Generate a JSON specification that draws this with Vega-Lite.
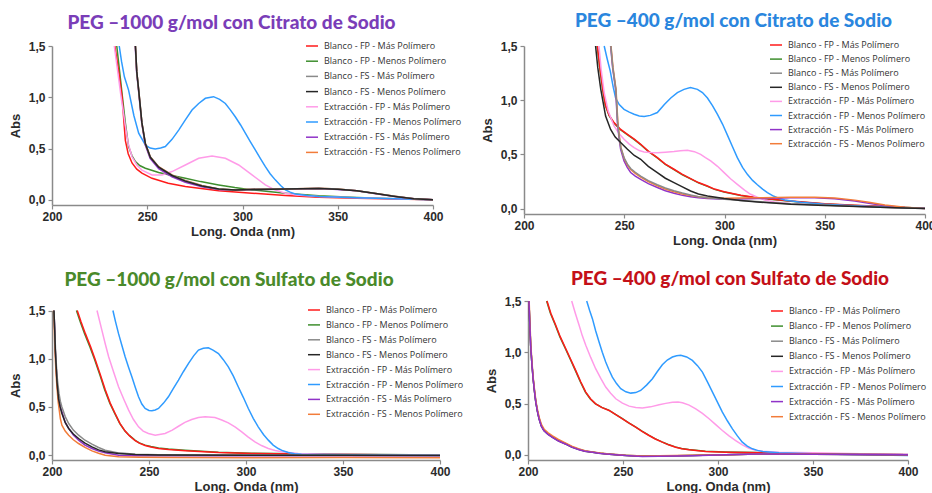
{
"$schema":"https://vega.github.io/schema/vega-lite/v6.json",
"background":"white",
"padding":{"left":9,"top":12,"right":0,"bottom":0},
"datasets":{
"series":[
{"s":1,"name":"Blanco - FP - Más Polímero"},{"s":2,"name":"Blanco - FP - Menos Polímero"},{"s":3,"name":"Blanco - FS - Más Polímero"},{"s":4,"name":"Blanco - FS - Menos Polímero"},
{"s":5,"name":"Extracción - FP - Más Polímero"},{"s":6,"name":"Extracción - FP - Menos Polímero"},{"s":7,"name":"Extracción - FS - Más Polímero"},{"s":8,"name":"Extracción - FS - Menos Polímero"}],
"spectra":[
{"p":1,"s":2,"x":234,"y":1.5},{"p":1,"s":2,"x":235.5,"y":1.25},{"p":1,"s":2,"x":237,"y":1.0},{"p":1,"s":2,"x":238.5,"y":0.75},{"p":1,"s":2,"x":240.2,"y":0.52},{"p":1,"s":2,"x":242,"y":0.43},{"p":1,"s":2,"x":243.8,"y":0.373},{"p":1,"s":2,"x":246,"y":0.335},{"p":1,"s":2,"x":249,"y":0.308},{"p":1,"s":2,"x":256,"y":0.266},{"p":1,"s":2,"x":263,"y":0.238},{"p":1,"s":2,"x":270,"y":0.21},{"p":1,"s":2,"x":278,"y":0.178},{"p":1,"s":2,"x":287.5,"y":0.146},{"p":1,"s":2,"x":296,"y":0.12},{"p":1,"s":2,"x":305,"y":0.097},{"p":1,"s":2,"x":322.5,"y":0.065},{"p":1,"s":2,"x":340,"y":0.039},{"p":1,"s":2,"x":360,"y":0.022},{"p":1,"s":2,"x":380,"y":0.01},{"p":1,"s":2,"x":400,"y":0.002},
{"p":1,"s":1,"x":233,"y":1.5},{"p":1,"s":1,"x":235,"y":1.25},{"p":1,"s":1,"x":236.8,"y":1.0},{"p":1,"s":1,"x":238,"y":0.7},{"p":1,"s":1,"x":238.5,"y":0.58},{"p":1,"s":1,"x":240,"y":0.45},{"p":1,"s":1,"x":242,"y":0.36},{"p":1,"s":1,"x":244.5,"y":0.3},{"p":1,"s":1,"x":247.2,"y":0.26},{"p":1,"s":1,"x":252.5,"y":0.21},{"p":1,"s":1,"x":261,"y":0.162},{"p":1,"s":1,"x":270,"y":0.13},{"p":1,"s":1,"x":287.5,"y":0.088},{"p":1,"s":1,"x":305,"y":0.065},{"p":1,"s":1,"x":322.5,"y":0.042},{"p":1,"s":1,"x":340,"y":0.026},{"p":1,"s":1,"x":360,"y":0.016},{"p":1,"s":1,"x":380,"y":0.008},{"p":1,"s":1,"x":400,"y":0.002},
{"p":1,"s":5,"x":232.7,"y":1.5},{"p":1,"s":5,"x":234.5,"y":1.25},{"p":1,"s":5,"x":236.3,"y":1.0},{"p":1,"s":5,"x":237.5,"y":0.85},{"p":1,"s":5,"x":238.5,"y":0.72},{"p":1,"s":5,"x":240,"y":0.55},{"p":1,"s":5,"x":242,"y":0.42},{"p":1,"s":5,"x":244.5,"y":0.34},{"p":1,"s":5,"x":247.2,"y":0.29},{"p":1,"s":5,"x":252.5,"y":0.243},{"p":1,"s":5,"x":257.7,"y":0.243},{"p":1,"s":5,"x":263,"y":0.276},{"p":1,"s":5,"x":270,"y":0.34},{"p":1,"s":5,"x":277,"y":0.405},{"p":1,"s":5,"x":284,"y":0.428},{"p":1,"s":5,"x":291,"y":0.405},{"p":1,"s":5,"x":298,"y":0.34},{"p":1,"s":5,"x":305,"y":0.243},{"p":1,"s":5,"x":312,"y":0.146},{"p":1,"s":5,"x":317,"y":0.097},{"p":1,"s":5,"x":322.5,"y":0.065},{"p":1,"s":5,"x":330,"y":0.045},{"p":1,"s":5,"x":340,"y":0.032},{"p":1,"s":5,"x":360,"y":0.02},{"p":1,"s":5,"x":380,"y":0.01},{"p":1,"s":5,"x":400,"y":0.002},
{"p":1,"s":6,"x":235.3,"y":1.5},{"p":1,"s":6,"x":236.5,"y":1.35},{"p":1,"s":6,"x":238,"y":1.2},{"p":1,"s":6,"x":240.2,"y":1.07},{"p":1,"s":6,"x":243,"y":0.82},{"p":1,"s":6,"x":245.5,"y":0.65},{"p":1,"s":6,"x":249,"y":0.535},{"p":1,"s":6,"x":251.5,"y":0.505},{"p":1,"s":6,"x":254.2,"y":0.497},{"p":1,"s":6,"x":257,"y":0.505},{"p":1,"s":6,"x":259.5,"y":0.52},{"p":1,"s":6,"x":263,"y":0.59},{"p":1,"s":6,"x":266.5,"y":0.68},{"p":1,"s":6,"x":270,"y":0.78},{"p":1,"s":6,"x":273.5,"y":0.876},{"p":1,"s":6,"x":277,"y":0.94},{"p":1,"s":6,"x":280.5,"y":0.99},{"p":1,"s":6,"x":284.8,"y":1.006},{"p":1,"s":6,"x":288,"y":0.98},{"p":1,"s":6,"x":291,"y":0.94},{"p":1,"s":6,"x":293.5,"y":0.88},{"p":1,"s":6,"x":296.2,"y":0.81},{"p":1,"s":6,"x":299,"y":0.73},{"p":1,"s":6,"x":301.5,"y":0.65},{"p":1,"s":6,"x":304,"y":0.57},{"p":1,"s":6,"x":306.7,"y":0.487},{"p":1,"s":6,"x":309.5,"y":0.4},{"p":1,"s":6,"x":312,"y":0.324},{"p":1,"s":6,"x":314.5,"y":0.255},{"p":1,"s":6,"x":317.2,"y":0.195},{"p":1,"s":6,"x":320,"y":0.14},{"p":1,"s":6,"x":322.5,"y":0.097},{"p":1,"s":6,"x":325,"y":0.075},{"p":1,"s":6,"x":327.7,"y":0.058},{"p":1,"s":6,"x":334,"y":0.042},{"p":1,"s":6,"x":340,"y":0.032},{"p":1,"s":6,"x":360,"y":0.02},{"p":1,"s":6,"x":380,"y":0.01},{"p":1,"s":6,"x":400,"y":0.002},
{"p":1,"s":7,"x":243.7,"y":1.5},{"p":1,"s":7,"x":244.4,"y":1.25},{"p":1,"s":7,"x":245.4,"y":1.07},{"p":1,"s":7,"x":247.1,"y":0.75},{"p":1,"s":7,"x":248.9,"y":0.54},{"p":1,"s":7,"x":251.5,"y":0.405},{"p":1,"s":7,"x":256,"y":0.305},{"p":1,"s":7,"x":263,"y":0.225},{"p":1,"s":7,"x":270,"y":0.172},{"p":1,"s":7,"x":278.7,"y":0.127},{"p":1,"s":7,"x":287.5,"y":0.1},{"p":1,"s":7,"x":296.2,"y":0.094},{"p":1,"s":7,"x":305,"y":0.1},{"p":1,"s":7,"x":322.5,"y":0.104},{"p":1,"s":7,"x":340,"y":0.11},{"p":1,"s":7,"x":350,"y":0.102},{"p":1,"s":7,"x":360,"y":0.088},{"p":1,"s":7,"x":370,"y":0.06},{"p":1,"s":7,"x":380,"y":0.033},{"p":1,"s":7,"x":390,"y":0.011},{"p":1,"s":7,"x":400,"y":0.0},
{"p":1,"s":8,"x":243.8,"y":1.5},{"p":1,"s":8,"x":244.5,"y":1.25},{"p":1,"s":8,"x":245.5,"y":1.07},{"p":1,"s":8,"x":247.2,"y":0.75},{"p":1,"s":8,"x":249,"y":0.55},{"p":1,"s":8,"x":251.6,"y":0.42},{"p":1,"s":8,"x":256,"y":0.324},{"p":1,"s":8,"x":263,"y":0.243},{"p":1,"s":8,"x":270,"y":0.188},{"p":1,"s":8,"x":278.7,"y":0.14},{"p":1,"s":8,"x":287.5,"y":0.107},{"p":1,"s":8,"x":296.2,"y":0.097},{"p":1,"s":8,"x":305,"y":0.104},{"p":1,"s":8,"x":322.5,"y":0.107},{"p":1,"s":8,"x":340,"y":0.114},{"p":1,"s":8,"x":350,"y":0.105},{"p":1,"s":8,"x":360,"y":0.09},{"p":1,"s":8,"x":370,"y":0.062},{"p":1,"s":8,"x":380,"y":0.035},{"p":1,"s":8,"x":390,"y":0.012},{"p":1,"s":8,"x":400,"y":0.0},
{"p":1,"s":3,"x":243.8,"y":1.5},{"p":1,"s":3,"x":244.5,"y":1.25},{"p":1,"s":3,"x":245.5,"y":1.07},{"p":1,"s":3,"x":247.2,"y":0.75},{"p":1,"s":3,"x":249,"y":0.55},{"p":1,"s":3,"x":251.6,"y":0.418},{"p":1,"s":3,"x":256,"y":0.32},{"p":1,"s":3,"x":263,"y":0.24},{"p":1,"s":3,"x":270,"y":0.186},{"p":1,"s":3,"x":278.7,"y":0.138},{"p":1,"s":3,"x":287.5,"y":0.106},{"p":1,"s":3,"x":296.2,"y":0.097},{"p":1,"s":3,"x":305,"y":0.103},{"p":1,"s":3,"x":322.5,"y":0.107},{"p":1,"s":3,"x":340,"y":0.113},{"p":1,"s":3,"x":350,"y":0.105},{"p":1,"s":3,"x":360,"y":0.09},{"p":1,"s":3,"x":370,"y":0.062},{"p":1,"s":3,"x":380,"y":0.035},{"p":1,"s":3,"x":390,"y":0.012},{"p":1,"s":3,"x":400,"y":0.0},
{"p":1,"s":4,"x":243.8,"y":1.5},{"p":1,"s":4,"x":244.5,"y":1.25},{"p":1,"s":4,"x":245.5,"y":1.07},{"p":1,"s":4,"x":247.2,"y":0.75},{"p":1,"s":4,"x":249,"y":0.55},{"p":1,"s":4,"x":251.6,"y":0.415},{"p":1,"s":4,"x":256,"y":0.318},{"p":1,"s":4,"x":263,"y":0.238},{"p":1,"s":4,"x":270,"y":0.183},{"p":1,"s":4,"x":278.7,"y":0.135},{"p":1,"s":4,"x":287.5,"y":0.105},{"p":1,"s":4,"x":296.2,"y":0.096},{"p":1,"s":4,"x":305,"y":0.102},{"p":1,"s":4,"x":322.5,"y":0.106},{"p":1,"s":4,"x":340,"y":0.112},{"p":1,"s":4,"x":350,"y":0.104},{"p":1,"s":4,"x":360,"y":0.089},{"p":1,"s":4,"x":370,"y":0.061},{"p":1,"s":4,"x":380,"y":0.034},{"p":1,"s":4,"x":390,"y":0.011},{"p":1,"s":4,"x":400,"y":0.0},

{"p":2,"s":2,"x":236.5,"y":1.5},{"p":2,"s":2,"x":237.9,"y":1.28},{"p":2,"s":2,"x":239.4,"y":1.08},{"p":2,"s":2,"x":240.6,"y":0.95},{"p":2,"s":2,"x":242.4,"y":0.86},{"p":2,"s":2,"x":244.8,"y":0.79},{"p":2,"s":2,"x":248.1,"y":0.727},{"p":2,"s":2,"x":251.5,"y":0.682},{"p":2,"s":2,"x":255,"y":0.637},{"p":2,"s":2,"x":258.2,"y":0.59},{"p":2,"s":2,"x":262,"y":0.527},{"p":2,"s":2,"x":266.5,"y":0.467},{"p":2,"s":2,"x":270.5,"y":0.407},{"p":2,"s":2,"x":274.8,"y":0.36},{"p":2,"s":2,"x":279,"y":0.312},{"p":2,"s":2,"x":283.1,"y":0.274},{"p":2,"s":2,"x":287,"y":0.237},{"p":2,"s":2,"x":291.5,"y":0.205},{"p":2,"s":2,"x":295,"y":0.177},{"p":2,"s":2,"x":299.8,"y":0.152},{"p":2,"s":2,"x":308.1,"y":0.12},{"p":2,"s":2,"x":316.4,"y":0.098},{"p":2,"s":2,"x":333,"y":0.068},{"p":2,"s":2,"x":350,"y":0.043},{"p":2,"s":2,"x":365,"y":0.028},{"p":2,"s":2,"x":380,"y":0.018},{"p":2,"s":2,"x":390,"y":0.009},{"p":2,"s":2,"x":400,"y":0.002},
{"p":2,"s":1,"x":236.6,"y":1.5},{"p":2,"s":1,"x":238,"y":1.28},{"p":2,"s":1,"x":239.5,"y":1.08},{"p":2,"s":1,"x":240.7,"y":0.95},{"p":2,"s":1,"x":242.5,"y":0.86},{"p":2,"s":1,"x":244.9,"y":0.793},{"p":2,"s":1,"x":248.2,"y":0.73},{"p":2,"s":1,"x":251.6,"y":0.685},{"p":2,"s":1,"x":255,"y":0.64},{"p":2,"s":1,"x":258.2,"y":0.593},{"p":2,"s":1,"x":262,"y":0.53},{"p":2,"s":1,"x":266.5,"y":0.47},{"p":2,"s":1,"x":270.5,"y":0.41},{"p":2,"s":1,"x":274.8,"y":0.363},{"p":2,"s":1,"x":279,"y":0.315},{"p":2,"s":1,"x":283.1,"y":0.277},{"p":2,"s":1,"x":287,"y":0.24},{"p":2,"s":1,"x":291.5,"y":0.208},{"p":2,"s":1,"x":295,"y":0.18},{"p":2,"s":1,"x":299.8,"y":0.155},{"p":2,"s":1,"x":308.1,"y":0.122},{"p":2,"s":1,"x":316.4,"y":0.1},{"p":2,"s":1,"x":333,"y":0.07},{"p":2,"s":1,"x":350,"y":0.045},{"p":2,"s":1,"x":365,"y":0.03},{"p":2,"s":1,"x":380,"y":0.02},{"p":2,"s":1,"x":390,"y":0.01},{"p":2,"s":1,"x":400,"y":0.003},
{"p":2,"s":5,"x":237.4,"y":1.5},{"p":2,"s":5,"x":238.5,"y":1.28},{"p":2,"s":5,"x":240,"y":1.07},{"p":2,"s":5,"x":242,"y":0.9},{"p":2,"s":5,"x":244.9,"y":0.762},{"p":2,"s":5,"x":247.5,"y":0.69},{"p":2,"s":5,"x":249.9,"y":0.64},{"p":2,"s":5,"x":252.5,"y":0.595},{"p":2,"s":5,"x":254.9,"y":0.563},{"p":2,"s":5,"x":257.5,"y":0.535},{"p":2,"s":5,"x":259.9,"y":0.522},{"p":2,"s":5,"x":263,"y":0.517},{"p":2,"s":5,"x":266.5,"y":0.516},{"p":2,"s":5,"x":270.5,"y":0.52},{"p":2,"s":5,"x":274.8,"y":0.526},{"p":2,"s":5,"x":278,"y":0.533},{"p":2,"s":5,"x":281.5,"y":0.538},{"p":2,"s":5,"x":285,"y":0.525},{"p":2,"s":5,"x":288.1,"y":0.5},{"p":2,"s":5,"x":290.5,"y":0.47},{"p":2,"s":5,"x":293.1,"y":0.44},{"p":2,"s":5,"x":296.5,"y":0.39},{"p":2,"s":5,"x":299.8,"y":0.332},{"p":2,"s":5,"x":303,"y":0.275},{"p":2,"s":5,"x":306.4,"y":0.224},{"p":2,"s":5,"x":310,"y":0.17},{"p":2,"s":5,"x":313,"y":0.132},{"p":2,"s":5,"x":316.4,"y":0.105},{"p":2,"s":5,"x":320,"y":0.08},{"p":2,"s":5,"x":325,"y":0.06},{"p":2,"s":5,"x":333,"y":0.045},{"p":2,"s":5,"x":350,"y":0.032},{"p":2,"s":5,"x":370,"y":0.02},{"p":2,"s":5,"x":385,"y":0.01},{"p":2,"s":5,"x":400,"y":0.002},
{"p":2,"s":6,"x":240,"y":1.5},{"p":2,"s":6,"x":241.5,"y":1.38},{"p":2,"s":6,"x":243,"y":1.27},{"p":2,"s":6,"x":244.5,"y":1.12},{"p":2,"s":6,"x":245.7,"y":1.02},{"p":2,"s":6,"x":247.5,"y":0.96},{"p":2,"s":6,"x":249.9,"y":0.916},{"p":2,"s":6,"x":252.5,"y":0.89},{"p":2,"s":6,"x":254.9,"y":0.87},{"p":2,"s":6,"x":257.5,"y":0.855},{"p":2,"s":6,"x":259.9,"y":0.849},{"p":2,"s":6,"x":263,"y":0.86},{"p":2,"s":6,"x":266.5,"y":0.886},{"p":2,"s":6,"x":270,"y":0.96},{"p":2,"s":6,"x":273.2,"y":1.02},{"p":2,"s":6,"x":276.5,"y":1.07},{"p":2,"s":6,"x":279.8,"y":1.1},{"p":2,"s":6,"x":283,"y":1.116},{"p":2,"s":6,"x":286.5,"y":1.1},{"p":2,"s":6,"x":289,"y":1.07},{"p":2,"s":6,"x":291.5,"y":1.02},{"p":2,"s":6,"x":294,"y":0.95},{"p":2,"s":6,"x":296.5,"y":0.87},{"p":2,"s":6,"x":299,"y":0.78},{"p":2,"s":6,"x":301.4,"y":0.68},{"p":2,"s":6,"x":304,"y":0.57},{"p":2,"s":6,"x":306.4,"y":0.47},{"p":2,"s":6,"x":309,"y":0.38},{"p":2,"s":6,"x":311.4,"y":0.316},{"p":2,"s":6,"x":314,"y":0.26},{"p":2,"s":6,"x":316.4,"y":0.22},{"p":2,"s":6,"x":319,"y":0.18},{"p":2,"s":6,"x":321.4,"y":0.148},{"p":2,"s":6,"x":324,"y":0.12},{"p":2,"s":6,"x":326.4,"y":0.1},{"p":2,"s":6,"x":330,"y":0.08},{"p":2,"s":6,"x":338,"y":0.058},{"p":2,"s":6,"x":350,"y":0.04},{"p":2,"s":6,"x":365,"y":0.025},{"p":2,"s":6,"x":380,"y":0.015},{"p":2,"s":6,"x":400,"y":0.003},
{"p":2,"s":7,"x":243.2,"y":1.5},{"p":2,"s":7,"x":244.2,"y":1.3},{"p":2,"s":7,"x":245.7,"y":1.1},{"p":2,"s":7,"x":246.6,"y":0.79},{"p":2,"s":7,"x":247.4,"y":0.65},{"p":2,"s":7,"x":248.2,"y":0.547},{"p":2,"s":7,"x":249.9,"y":0.44},{"p":2,"s":7,"x":251.5,"y":0.38},{"p":2,"s":7,"x":253.2,"y":0.332},{"p":2,"s":7,"x":255.5,"y":0.3},{"p":2,"s":7,"x":258.2,"y":0.27},{"p":2,"s":7,"x":262,"y":0.23},{"p":2,"s":7,"x":266.5,"y":0.194},{"p":2,"s":7,"x":270.5,"y":0.165},{"p":2,"s":7,"x":274.8,"y":0.141},{"p":2,"s":7,"x":279,"y":0.122},{"p":2,"s":7,"x":283.1,"y":0.11},{"p":2,"s":7,"x":287,"y":0.1},{"p":2,"s":7,"x":291.5,"y":0.092},{"p":2,"s":7,"x":299.8,"y":0.086},{"p":2,"s":7,"x":308,"y":0.088},{"p":2,"s":7,"x":316.4,"y":0.092},{"p":2,"s":7,"x":333,"y":0.1},{"p":2,"s":7,"x":345,"y":0.1},{"p":2,"s":7,"x":355,"y":0.09},{"p":2,"s":7,"x":365,"y":0.07},{"p":2,"s":7,"x":372,"y":0.05},{"p":2,"s":7,"x":380,"y":0.026},{"p":2,"s":7,"x":390,"y":0.01},{"p":2,"s":7,"x":400,"y":0.0},
{"p":2,"s":8,"x":243.4,"y":1.5},{"p":2,"s":8,"x":244.4,"y":1.3},{"p":2,"s":8,"x":245.9,"y":1.1},{"p":2,"s":8,"x":246.8,"y":0.8},{"p":2,"s":8,"x":247.6,"y":0.66},{"p":2,"s":8,"x":248.4,"y":0.56},{"p":2,"s":8,"x":250,"y":0.46},{"p":2,"s":8,"x":251.6,"y":0.4},{"p":2,"s":8,"x":253.2,"y":0.36},{"p":2,"s":8,"x":255.5,"y":0.325},{"p":2,"s":8,"x":258.2,"y":0.29},{"p":2,"s":8,"x":262,"y":0.25},{"p":2,"s":8,"x":266.5,"y":0.21},{"p":2,"s":8,"x":270.5,"y":0.18},{"p":2,"s":8,"x":274.8,"y":0.155},{"p":2,"s":8,"x":279,"y":0.135},{"p":2,"s":8,"x":283.1,"y":0.12},{"p":2,"s":8,"x":287,"y":0.11},{"p":2,"s":8,"x":291.5,"y":0.1},{"p":2,"s":8,"x":299.8,"y":0.095},{"p":2,"s":8,"x":308,"y":0.097},{"p":2,"s":8,"x":316.4,"y":0.1},{"p":2,"s":8,"x":333,"y":0.105},{"p":2,"s":8,"x":345,"y":0.105},{"p":2,"s":8,"x":355,"y":0.097},{"p":2,"s":8,"x":365,"y":0.078},{"p":2,"s":8,"x":372,"y":0.058},{"p":2,"s":8,"x":380,"y":0.032},{"p":2,"s":8,"x":390,"y":0.012},{"p":2,"s":8,"x":400,"y":0.0},
{"p":2,"s":3,"x":243.3,"y":1.5},{"p":2,"s":3,"x":244.3,"y":1.3},{"p":2,"s":3,"x":245.8,"y":1.1},{"p":2,"s":3,"x":246.7,"y":0.8},{"p":2,"s":3,"x":247.5,"y":0.66},{"p":2,"s":3,"x":248.3,"y":0.56},{"p":2,"s":3,"x":250,"y":0.465},{"p":2,"s":3,"x":251.6,"y":0.41},{"p":2,"s":3,"x":253.2,"y":0.37},{"p":2,"s":3,"x":255.5,"y":0.335},{"p":2,"s":3,"x":258.2,"y":0.3},{"p":2,"s":3,"x":262,"y":0.258},{"p":2,"s":3,"x":266.5,"y":0.22},{"p":2,"s":3,"x":270.5,"y":0.19},{"p":2,"s":3,"x":274.8,"y":0.165},{"p":2,"s":3,"x":279,"y":0.143},{"p":2,"s":3,"x":283.1,"y":0.125},{"p":2,"s":3,"x":287,"y":0.11},{"p":2,"s":3,"x":291.5,"y":0.1},{"p":2,"s":3,"x":300,"y":0.085},{"p":2,"s":3,"x":308,"y":0.075},{"p":2,"s":3,"x":316,"y":0.065},{"p":2,"s":3,"x":333,"y":0.045},{"p":2,"s":3,"x":350,"y":0.032},{"p":2,"s":3,"x":370,"y":0.018},{"p":2,"s":3,"x":385,"y":0.008},{"p":2,"s":3,"x":400,"y":0.0},
{"p":2,"s":4,"x":235.7,"y":1.5},{"p":2,"s":4,"x":236.8,"y":1.3},{"p":2,"s":4,"x":238.3,"y":1.1},{"p":2,"s":4,"x":240.7,"y":0.854},{"p":2,"s":4,"x":243.2,"y":0.73},{"p":2,"s":4,"x":245.5,"y":0.66},{"p":2,"s":4,"x":248.2,"y":0.61},{"p":2,"s":4,"x":251.6,"y":0.547},{"p":2,"s":4,"x":255,"y":0.49},{"p":2,"s":4,"x":258.2,"y":0.455},{"p":2,"s":4,"x":262,"y":0.39},{"p":2,"s":4,"x":266.5,"y":0.332},{"p":2,"s":4,"x":270.5,"y":0.28},{"p":2,"s":4,"x":274.8,"y":0.24},{"p":2,"s":4,"x":279,"y":0.2},{"p":2,"s":4,"x":283.1,"y":0.162},{"p":2,"s":4,"x":287,"y":0.135},{"p":2,"s":4,"x":291.5,"y":0.116},{"p":2,"s":4,"x":299.8,"y":0.092},{"p":2,"s":4,"x":308,"y":0.075},{"p":2,"s":4,"x":316.4,"y":0.061},{"p":2,"s":4,"x":333,"y":0.04},{"p":2,"s":4,"x":350,"y":0.028},{"p":2,"s":4,"x":370,"y":0.016},{"p":2,"s":4,"x":385,"y":0.008},{"p":2,"s":4,"x":400,"y":0.0},

{"p":3,"s":2,"x":212.6,"y":1.5},{"p":3,"s":2,"x":214.6,"y":1.38},{"p":3,"s":2,"x":216.8,"y":1.26},{"p":3,"s":2,"x":219.6,"y":1.12},{"p":3,"s":2,"x":222,"y":0.99},{"p":3,"s":2,"x":224.7,"y":0.83},{"p":3,"s":2,"x":227.1,"y":0.68},{"p":3,"s":2,"x":229.8,"y":0.54},{"p":3,"s":2,"x":232.4,"y":0.43},{"p":3,"s":2,"x":234.9,"y":0.33},{"p":3,"s":2,"x":237.6,"y":0.25},{"p":3,"s":2,"x":240,"y":0.202},{"p":3,"s":2,"x":242.9,"y":0.153},{"p":3,"s":2,"x":245,"y":0.128},{"p":3,"s":2,"x":248,"y":0.104},{"p":3,"s":2,"x":251,"y":0.089},{"p":3,"s":2,"x":254.9,"y":0.074},{"p":3,"s":2,"x":260,"y":0.063},{"p":3,"s":2,"x":268.6,"y":0.05},{"p":3,"s":2,"x":285.8,"y":0.03},{"p":3,"s":2,"x":302.9,"y":0.02},{"p":3,"s":2,"x":337,"y":0.011},{"p":3,"s":2,"x":370,"y":0.006},{"p":3,"s":2,"x":400,"y":0.002},
{"p":3,"s":1,"x":213,"y":1.5},{"p":3,"s":1,"x":215,"y":1.38},{"p":3,"s":1,"x":217.2,"y":1.26},{"p":3,"s":1,"x":220,"y":1.12},{"p":3,"s":1,"x":222.3,"y":0.99},{"p":3,"s":1,"x":225,"y":0.83},{"p":3,"s":1,"x":227.4,"y":0.68},{"p":3,"s":1,"x":230,"y":0.54},{"p":3,"s":1,"x":232.6,"y":0.43},{"p":3,"s":1,"x":235,"y":0.33},{"p":3,"s":1,"x":237.7,"y":0.25},{"p":3,"s":1,"x":240,"y":0.2},{"p":3,"s":1,"x":242.9,"y":0.15},{"p":3,"s":1,"x":245,"y":0.125},{"p":3,"s":1,"x":248,"y":0.1},{"p":3,"s":1,"x":251,"y":0.085},{"p":3,"s":1,"x":254.9,"y":0.07},{"p":3,"s":1,"x":260,"y":0.06},{"p":3,"s":1,"x":268.6,"y":0.047},{"p":3,"s":1,"x":285.8,"y":0.028},{"p":3,"s":1,"x":302.9,"y":0.018},{"p":3,"s":1,"x":337,"y":0.01},{"p":3,"s":1,"x":370,"y":0.005},{"p":3,"s":1,"x":400,"y":0.0},
{"p":3,"s":5,"x":223.2,"y":1.5},{"p":3,"s":5,"x":225.7,"y":1.296},{"p":3,"s":5,"x":227.5,"y":1.15},{"p":3,"s":5,"x":229.2,"y":1.02},{"p":3,"s":5,"x":231.8,"y":0.86},{"p":3,"s":5,"x":234.3,"y":0.709},{"p":3,"s":5,"x":237,"y":0.58},{"p":3,"s":5,"x":239.5,"y":0.467},{"p":3,"s":5,"x":242,"y":0.37},{"p":3,"s":5,"x":244.6,"y":0.294},{"p":3,"s":5,"x":247,"y":0.25},{"p":3,"s":5,"x":249.7,"y":0.225},{"p":3,"s":5,"x":253.2,"y":0.207},{"p":3,"s":5,"x":258.3,"y":0.225},{"p":3,"s":5,"x":262,"y":0.26},{"p":3,"s":5,"x":265.2,"y":0.3},{"p":3,"s":5,"x":268.5,"y":0.34},{"p":3,"s":5,"x":272,"y":0.37},{"p":3,"s":5,"x":275.5,"y":0.39},{"p":3,"s":5,"x":278.9,"y":0.398},{"p":3,"s":5,"x":284,"y":0.39},{"p":3,"s":5,"x":287.5,"y":0.365},{"p":3,"s":5,"x":290.9,"y":0.335},{"p":3,"s":5,"x":294.5,"y":0.29},{"p":3,"s":5,"x":297.8,"y":0.242},{"p":3,"s":5,"x":301,"y":0.19},{"p":3,"s":5,"x":304.6,"y":0.138},{"p":3,"s":5,"x":308,"y":0.1},{"p":3,"s":5,"x":311.5,"y":0.069},{"p":3,"s":5,"x":315,"y":0.048},{"p":3,"s":5,"x":318.4,"y":0.035},{"p":3,"s":5,"x":326.9,"y":0.017},{"p":3,"s":5,"x":340,"y":0.01},{"p":3,"s":5,"x":360,"y":0.006},{"p":3,"s":5,"x":400,"y":0.003},
{"p":3,"s":6,"x":231.4,"y":1.5},{"p":3,"s":6,"x":232.8,"y":1.38},{"p":3,"s":6,"x":234.3,"y":1.26},{"p":3,"s":6,"x":236,"y":1.14},{"p":3,"s":6,"x":237.7,"y":1.02},{"p":3,"s":6,"x":239.5,"y":0.91},{"p":3,"s":6,"x":241.2,"y":0.81},{"p":3,"s":6,"x":243,"y":0.7},{"p":3,"s":6,"x":244.6,"y":0.605},{"p":3,"s":6,"x":246.3,"y":0.53},{"p":3,"s":6,"x":248,"y":0.484},{"p":3,"s":6,"x":250,"y":0.463},{"p":3,"s":6,"x":251.5,"y":0.46},{"p":3,"s":6,"x":253.2,"y":0.468},{"p":3,"s":6,"x":254.9,"y":0.484},{"p":3,"s":6,"x":257.5,"y":0.54},{"p":3,"s":6,"x":260,"y":0.605},{"p":3,"s":6,"x":262.5,"y":0.69},{"p":3,"s":6,"x":265.2,"y":0.778},{"p":3,"s":6,"x":267.7,"y":0.865},{"p":3,"s":6,"x":270.3,"y":0.95},{"p":3,"s":6,"x":273,"y":1.03},{"p":3,"s":6,"x":275.5,"y":1.09},{"p":3,"s":6,"x":278,"y":1.108},{"p":3,"s":6,"x":280.6,"y":1.113},{"p":3,"s":6,"x":283,"y":1.09},{"p":3,"s":6,"x":285.8,"y":1.054},{"p":3,"s":6,"x":288.3,"y":0.99},{"p":3,"s":6,"x":290.9,"y":0.916},{"p":3,"s":6,"x":293.5,"y":0.82},{"p":3,"s":6,"x":296,"y":0.709},{"p":3,"s":6,"x":298.6,"y":0.6},{"p":3,"s":6,"x":301.2,"y":0.484},{"p":3,"s":6,"x":303.8,"y":0.38},{"p":3,"s":6,"x":306.3,"y":0.294},{"p":3,"s":6,"x":309,"y":0.215},{"p":3,"s":6,"x":311.5,"y":0.156},{"p":3,"s":6,"x":314,"y":0.105},{"p":3,"s":6,"x":316.6,"y":0.069},{"p":3,"s":6,"x":319,"y":0.045},{"p":3,"s":6,"x":321.8,"y":0.028},{"p":3,"s":6,"x":325,"y":0.016},{"p":3,"s":6,"x":328.6,"y":0.01},{"p":3,"s":6,"x":340,"y":0.006},{"p":3,"s":6,"x":370,"y":0.003},{"p":3,"s":6,"x":400,"y":0.0},
{"p":3,"s":7,"x":201,"y":1.5},{"p":3,"s":7,"x":201.4,"y":1.3},{"p":3,"s":7,"x":201.7,"y":1.09},{"p":3,"s":7,"x":202.2,"y":0.9},{"p":3,"s":7,"x":202.6,"y":0.75},{"p":3,"s":7,"x":203.4,"y":0.57},{"p":3,"s":7,"x":204.2,"y":0.5},{"p":3,"s":7,"x":205.1,"y":0.45},{"p":3,"s":7,"x":206.8,"y":0.34},{"p":3,"s":7,"x":208.6,"y":0.277},{"p":3,"s":7,"x":211,"y":0.21},{"p":3,"s":7,"x":213.7,"y":0.156},{"p":3,"s":7,"x":217,"y":0.105},{"p":3,"s":7,"x":220.6,"y":0.069},{"p":3,"s":7,"x":224,"y":0.042},{"p":3,"s":7,"x":227.4,"y":0.024},{"p":3,"s":7,"x":234.3,"y":0.0},{"p":3,"s":7,"x":242.9,"y":-0.005},{"p":3,"s":7,"x":260,"y":-0.006},{"p":3,"s":7,"x":300,"y":-0.006},{"p":3,"s":7,"x":350,"y":-0.005},{"p":3,"s":7,"x":400,"y":-0.006},
{"p":3,"s":8,"x":200.8,"y":1.5},{"p":3,"s":8,"x":201.2,"y":1.3},{"p":3,"s":8,"x":201.5,"y":1.09},{"p":3,"s":8,"x":202,"y":0.88},{"p":3,"s":8,"x":202.5,"y":0.72},{"p":3,"s":8,"x":203.2,"y":0.55},{"p":3,"s":8,"x":204.3,"y":0.38},{"p":3,"s":8,"x":205.1,"y":0.311},{"p":3,"s":8,"x":206.8,"y":0.25},{"p":3,"s":8,"x":208.6,"y":0.207},{"p":3,"s":8,"x":211,"y":0.16},{"p":3,"s":8,"x":213.7,"y":0.121},{"p":3,"s":8,"x":217,"y":0.08},{"p":3,"s":8,"x":220.6,"y":0.045},{"p":3,"s":8,"x":224,"y":0.02},{"p":3,"s":8,"x":227.4,"y":0.0},{"p":3,"s":8,"x":234.3,"y":-0.017},{"p":3,"s":8,"x":245,"y":-0.022},{"p":3,"s":8,"x":260,"y":-0.024},{"p":3,"s":8,"x":300,"y":-0.027},{"p":3,"s":8,"x":350,"y":-0.024},{"p":3,"s":8,"x":400,"y":-0.026},
{"p":3,"s":3,"x":201,"y":1.5},{"p":3,"s":3,"x":201.4,"y":1.3},{"p":3,"s":3,"x":201.8,"y":1.1},{"p":3,"s":3,"x":202.3,"y":0.92},{"p":3,"s":3,"x":202.8,"y":0.78},{"p":3,"s":3,"x":203.6,"y":0.64},{"p":3,"s":3,"x":204.3,"y":0.56},{"p":3,"s":3,"x":205.1,"y":0.5},{"p":3,"s":3,"x":206.8,"y":0.4},{"p":3,"s":3,"x":208.6,"y":0.328},{"p":3,"s":3,"x":211,"y":0.26},{"p":3,"s":3,"x":213.7,"y":0.207},{"p":3,"s":3,"x":217,"y":0.155},{"p":3,"s":3,"x":220.6,"y":0.114},{"p":3,"s":3,"x":224,"y":0.08},{"p":3,"s":3,"x":227.4,"y":0.052},{"p":3,"s":3,"x":234.3,"y":0.024},{"p":3,"s":3,"x":242.9,"y":0.01},{"p":3,"s":3,"x":255,"y":0.004},{"p":3,"s":3,"x":300,"y":0.001},{"p":3,"s":3,"x":350,"y":0.0},{"p":3,"s":3,"x":400,"y":-0.002},
{"p":3,"s":4,"x":201,"y":1.5},{"p":3,"s":4,"x":201.4,"y":1.3},{"p":3,"s":4,"x":201.7,"y":1.09},{"p":3,"s":4,"x":202.2,"y":0.9},{"p":3,"s":4,"x":202.6,"y":0.75},{"p":3,"s":4,"x":203.4,"y":0.58},{"p":3,"s":4,"x":204.2,"y":0.5},{"p":3,"s":4,"x":205.1,"y":0.432},{"p":3,"s":4,"x":206.8,"y":0.34},{"p":3,"s":4,"x":208.6,"y":0.277},{"p":3,"s":4,"x":211,"y":0.22},{"p":3,"s":4,"x":213.7,"y":0.173},{"p":3,"s":4,"x":217,"y":0.125},{"p":3,"s":4,"x":220.6,"y":0.086},{"p":3,"s":4,"x":224,"y":0.055},{"p":3,"s":4,"x":227.4,"y":0.035},{"p":3,"s":4,"x":234.3,"y":0.017},{"p":3,"s":4,"x":242.9,"y":0.007},{"p":3,"s":4,"x":255,"y":0.003},{"p":3,"s":4,"x":300,"y":0.0},{"p":3,"s":4,"x":350,"y":0.0},{"p":3,"s":4,"x":400,"y":-0.003},

{"p":4,"s":2,"x":209.8,"y":1.5},{"p":4,"s":2,"x":211.8,"y":1.38},{"p":4,"s":2,"x":214.4,"y":1.263},{"p":4,"s":2,"x":216.8,"y":1.15},{"p":4,"s":2,"x":219.7,"y":1.035},{"p":4,"s":2,"x":222.3,"y":0.93},{"p":4,"s":2,"x":224.9,"y":0.824},{"p":4,"s":2,"x":227.6,"y":0.71},{"p":4,"s":2,"x":230.2,"y":0.612},{"p":4,"s":2,"x":232.8,"y":0.545},{"p":4,"s":2,"x":235.4,"y":0.5},{"p":4,"s":2,"x":238.8,"y":0.463},{"p":4,"s":2,"x":242.5,"y":0.436},{"p":4,"s":2,"x":245.8,"y":0.398},{"p":4,"s":2,"x":249.5,"y":0.355},{"p":4,"s":2,"x":252.8,"y":0.315},{"p":4,"s":2,"x":256.5,"y":0.273},{"p":4,"s":2,"x":259.8,"y":0.233},{"p":4,"s":2,"x":263.5,"y":0.192},{"p":4,"s":2,"x":266.8,"y":0.158},{"p":4,"s":2,"x":270.5,"y":0.127},{"p":4,"s":2,"x":273.8,"y":0.101},{"p":4,"s":2,"x":277.5,"y":0.078},{"p":4,"s":2,"x":280.8,"y":0.063},{"p":4,"s":2,"x":284.6,"y":0.052},{"p":4,"s":2,"x":293.3,"y":0.036},{"p":4,"s":2,"x":304,"y":0.029},{"p":4,"s":2,"x":321.5,"y":0.022},{"p":4,"s":2,"x":351,"y":0.012},{"p":4,"s":2,"x":375,"y":0.006},{"p":4,"s":2,"x":400,"y":0.003},
{"p":4,"s":1,"x":210,"y":1.5},{"p":4,"s":1,"x":212,"y":1.38},{"p":4,"s":1,"x":214.6,"y":1.263},{"p":4,"s":1,"x":217,"y":1.15},{"p":4,"s":1,"x":219.9,"y":1.035},{"p":4,"s":1,"x":222.5,"y":0.93},{"p":4,"s":1,"x":225.1,"y":0.824},{"p":4,"s":1,"x":227.8,"y":0.71},{"p":4,"s":1,"x":230.4,"y":0.612},{"p":4,"s":1,"x":233,"y":0.545},{"p":4,"s":1,"x":235.6,"y":0.498},{"p":4,"s":1,"x":239,"y":0.46},{"p":4,"s":1,"x":242.7,"y":0.433},{"p":4,"s":1,"x":246,"y":0.395},{"p":4,"s":1,"x":249.7,"y":0.352},{"p":4,"s":1,"x":253,"y":0.312},{"p":4,"s":1,"x":256.7,"y":0.27},{"p":4,"s":1,"x":260,"y":0.23},{"p":4,"s":1,"x":263.7,"y":0.189},{"p":4,"s":1,"x":267,"y":0.155},{"p":4,"s":1,"x":270.7,"y":0.124},{"p":4,"s":1,"x":274,"y":0.098},{"p":4,"s":1,"x":277.7,"y":0.075},{"p":4,"s":1,"x":281,"y":0.06},{"p":4,"s":1,"x":284.8,"y":0.049},{"p":4,"s":1,"x":293.5,"y":0.033},{"p":4,"s":1,"x":304.1,"y":0.026},{"p":4,"s":1,"x":321.6,"y":0.02},{"p":4,"s":1,"x":351.4,"y":0.01},{"p":4,"s":1,"x":375,"y":0.005},{"p":4,"s":1,"x":400,"y":0.002},
{"p":4,"s":5,"x":223,"y":1.5},{"p":4,"s":5,"x":224.9,"y":1.38},{"p":4,"s":5,"x":226.9,"y":1.263},{"p":4,"s":5,"x":228.6,"y":1.16},{"p":4,"s":5,"x":230.4,"y":1.068},{"p":4,"s":5,"x":233,"y":0.95},{"p":4,"s":5,"x":235.6,"y":0.84},{"p":4,"s":5,"x":238.3,"y":0.745},{"p":4,"s":5,"x":240.9,"y":0.661},{"p":4,"s":5,"x":243.5,"y":0.6},{"p":4,"s":5,"x":246.2,"y":0.547},{"p":4,"s":5,"x":249.7,"y":0.505},{"p":4,"s":5,"x":253.2,"y":0.475},{"p":4,"s":5,"x":256.7,"y":0.462},{"p":4,"s":5,"x":260.2,"y":0.456},{"p":4,"s":5,"x":264.5,"y":0.468},{"p":4,"s":5,"x":269,"y":0.488},{"p":4,"s":5,"x":272.5,"y":0.502},{"p":4,"s":5,"x":276,"y":0.514},{"p":4,"s":5,"x":279,"y":0.515},{"p":4,"s":5,"x":281.3,"y":0.508},{"p":4,"s":5,"x":284.8,"y":0.485},{"p":4,"s":5,"x":288.3,"y":0.449},{"p":4,"s":5,"x":291.8,"y":0.405},{"p":4,"s":5,"x":295.3,"y":0.352},{"p":4,"s":5,"x":298.8,"y":0.295},{"p":4,"s":5,"x":302.3,"y":0.238},{"p":4,"s":5,"x":305.8,"y":0.185},{"p":4,"s":5,"x":309.3,"y":0.14},{"p":4,"s":5,"x":312.8,"y":0.097},{"p":4,"s":5,"x":316.3,"y":0.065},{"p":4,"s":5,"x":319.8,"y":0.046},{"p":4,"s":5,"x":323.4,"y":0.036},{"p":4,"s":5,"x":332.1,"y":0.026},{"p":4,"s":5,"x":350,"y":0.02},{"p":4,"s":5,"x":375,"y":0.012},{"p":4,"s":5,"x":400,"y":0.005},
{"p":4,"s":6,"x":230.9,"y":1.5},{"p":4,"s":6,"x":232.4,"y":1.41},{"p":4,"s":6,"x":233.9,"y":1.328},{"p":4,"s":6,"x":235.6,"y":1.21},{"p":4,"s":6,"x":237.4,"y":1.1},{"p":4,"s":6,"x":239.1,"y":1.0},{"p":4,"s":6,"x":240.9,"y":0.905},{"p":4,"s":6,"x":242.6,"y":0.83},{"p":4,"s":6,"x":244.4,"y":0.758},{"p":4,"s":6,"x":246.6,"y":0.695},{"p":4,"s":6,"x":248.8,"y":0.645},{"p":4,"s":6,"x":251.5,"y":0.615},{"p":4,"s":6,"x":254.1,"y":0.602},{"p":4,"s":6,"x":256.7,"y":0.607},{"p":4,"s":6,"x":259.3,"y":0.628},{"p":4,"s":6,"x":262.4,"y":0.68},{"p":4,"s":6,"x":265.5,"y":0.742},{"p":4,"s":6,"x":268,"y":0.81},{"p":4,"s":6,"x":270.7,"y":0.879},{"p":4,"s":6,"x":273.3,"y":0.925},{"p":4,"s":6,"x":276,"y":0.954},{"p":4,"s":6,"x":278.2,"y":0.966},{"p":4,"s":6,"x":280.4,"y":0.97},{"p":4,"s":6,"x":283.5,"y":0.955},{"p":4,"s":6,"x":286.5,"y":0.921},{"p":4,"s":6,"x":289.2,"y":0.87},{"p":4,"s":6,"x":291.8,"y":0.807},{"p":4,"s":6,"x":294.5,"y":0.71},{"p":4,"s":6,"x":297.1,"y":0.612},{"p":4,"s":6,"x":299.7,"y":0.515},{"p":4,"s":6,"x":302.3,"y":0.417},{"p":4,"s":6,"x":305,"y":0.33},{"p":4,"s":6,"x":307.6,"y":0.254},{"p":4,"s":6,"x":310.2,"y":0.185},{"p":4,"s":6,"x":312.8,"y":0.124},{"p":4,"s":6,"x":315.4,"y":0.085},{"p":4,"s":6,"x":318.1,"y":0.059},{"p":4,"s":6,"x":320.8,"y":0.044},{"p":4,"s":6,"x":323.4,"y":0.033},{"p":4,"s":6,"x":332.1,"y":0.02},{"p":4,"s":6,"x":350,"y":0.01},{"p":4,"s":6,"x":375,"y":0.0},{"p":4,"s":6,"x":400,"y":-0.005},
{"p":4,"s":3,"x":200.5,"y":1.5},{"p":4,"s":3,"x":200.9,"y":1.3},{"p":4,"s":3,"x":201.4,"y":1.068},{"p":4,"s":3,"x":202,"y":0.9},{"p":4,"s":3,"x":202.7,"y":0.742},{"p":4,"s":3,"x":203.4,"y":0.622},{"p":4,"s":3,"x":204.1,"y":0.517},{"p":4,"s":3,"x":205,"y":0.425},{"p":4,"s":3,"x":205.8,"y":0.357},{"p":4,"s":3,"x":207,"y":0.286},{"p":4,"s":3,"x":208.4,"y":0.241},{"p":4,"s":3,"x":210.5,"y":0.206},{"p":4,"s":3,"x":212.8,"y":0.176},{"p":4,"s":3,"x":216,"y":0.141},{"p":4,"s":3,"x":219.9,"y":0.109},{"p":4,"s":3,"x":223,"y":0.08},{"p":4,"s":3,"x":226.9,"y":0.054},{"p":4,"s":3,"x":230,"y":0.038},{"p":4,"s":3,"x":233.9,"y":0.027},{"p":4,"s":3,"x":238,"y":0.016},{"p":4,"s":3,"x":242.7,"y":0.008},{"p":4,"s":3,"x":251.4,"y":-0.004},{"p":4,"s":3,"x":260.2,"y":-0.012},{"p":4,"s":3,"x":269,"y":-0.011},{"p":4,"s":3,"x":286.5,"y":-0.005},{"p":4,"s":3,"x":304,"y":0.001},{"p":4,"s":3,"x":321.6,"y":0.008},{"p":4,"s":3,"x":350,"y":0.007},{"p":4,"s":3,"x":375,"y":0.003},{"p":4,"s":3,"x":400,"y":0.0},
{"p":4,"s":4,"x":200.5,"y":1.5},{"p":4,"s":4,"x":200.9,"y":1.3},{"p":4,"s":4,"x":201.4,"y":1.068},{"p":4,"s":4,"x":202,"y":0.9},{"p":4,"s":4,"x":202.7,"y":0.742},{"p":4,"s":4,"x":203.4,"y":0.62},{"p":4,"s":4,"x":204.1,"y":0.515},{"p":4,"s":4,"x":205,"y":0.422},{"p":4,"s":4,"x":205.8,"y":0.354},{"p":4,"s":4,"x":207,"y":0.283},{"p":4,"s":4,"x":208.4,"y":0.238},{"p":4,"s":4,"x":210.5,"y":0.203},{"p":4,"s":4,"x":212.8,"y":0.173},{"p":4,"s":4,"x":216,"y":0.138},{"p":4,"s":4,"x":219.9,"y":0.106},{"p":4,"s":4,"x":223,"y":0.077},{"p":4,"s":4,"x":226.9,"y":0.052},{"p":4,"s":4,"x":230,"y":0.036},{"p":4,"s":4,"x":233.9,"y":0.026},{"p":4,"s":4,"x":238,"y":0.015},{"p":4,"s":4,"x":242.7,"y":0.007},{"p":4,"s":4,"x":251.4,"y":-0.005},{"p":4,"s":4,"x":260.2,"y":-0.014},{"p":4,"s":4,"x":269,"y":-0.012},{"p":4,"s":4,"x":286.5,"y":-0.006},{"p":4,"s":4,"x":304,"y":0.0},{"p":4,"s":4,"x":321.6,"y":0.008},{"p":4,"s":4,"x":350,"y":0.007},{"p":4,"s":4,"x":375,"y":0.003},{"p":4,"s":4,"x":400,"y":0.0},
{"p":4,"s":8,"x":200.6,"y":1.5},{"p":4,"s":8,"x":201,"y":1.3},{"p":4,"s":8,"x":201.5,"y":1.068},{"p":4,"s":8,"x":202.1,"y":0.9},{"p":4,"s":8,"x":202.8,"y":0.742},{"p":4,"s":8,"x":203.5,"y":0.625},{"p":4,"s":8,"x":204.2,"y":0.52},{"p":4,"s":8,"x":205.1,"y":0.43},{"p":4,"s":8,"x":205.9,"y":0.365},{"p":4,"s":8,"x":207.1,"y":0.295},{"p":4,"s":8,"x":208.5,"y":0.25},{"p":4,"s":8,"x":210.6,"y":0.215},{"p":4,"s":8,"x":212.9,"y":0.185},{"p":4,"s":8,"x":216,"y":0.15},{"p":4,"s":8,"x":219.9,"y":0.115},{"p":4,"s":8,"x":223,"y":0.085},{"p":4,"s":8,"x":226.9,"y":0.058},{"p":4,"s":8,"x":230,"y":0.04},{"p":4,"s":8,"x":233.9,"y":0.029},{"p":4,"s":8,"x":238,"y":0.018},{"p":4,"s":8,"x":242.7,"y":0.009},{"p":4,"s":8,"x":251.4,"y":-0.003},{"p":4,"s":8,"x":260.2,"y":-0.01},{"p":4,"s":8,"x":269,"y":-0.009},{"p":4,"s":8,"x":286.5,"y":-0.004},{"p":4,"s":8,"x":304,"y":0.002},{"p":4,"s":8,"x":321.6,"y":0.009},{"p":4,"s":8,"x":350,"y":0.008},{"p":4,"s":8,"x":375,"y":0.004},{"p":4,"s":8,"x":400,"y":0.0},
{"p":4,"s":7,"x":200.5,"y":1.5},{"p":4,"s":7,"x":200.9,"y":1.3},{"p":4,"s":7,"x":201.4,"y":1.068},{"p":4,"s":7,"x":202,"y":0.9},{"p":4,"s":7,"x":202.7,"y":0.742},{"p":4,"s":7,"x":203.4,"y":0.62},{"p":4,"s":7,"x":204.1,"y":0.514},{"p":4,"s":7,"x":205,"y":0.42},{"p":4,"s":7,"x":205.8,"y":0.352},{"p":4,"s":7,"x":207,"y":0.28},{"p":4,"s":7,"x":208.4,"y":0.235},{"p":4,"s":7,"x":210.5,"y":0.2},{"p":4,"s":7,"x":212.8,"y":0.17},{"p":4,"s":7,"x":216,"y":0.135},{"p":4,"s":7,"x":219.9,"y":0.104},{"p":4,"s":7,"x":223,"y":0.075},{"p":4,"s":7,"x":226.9,"y":0.05},{"p":4,"s":7,"x":230,"y":0.035},{"p":4,"s":7,"x":233.9,"y":0.025},{"p":4,"s":7,"x":238,"y":0.014},{"p":4,"s":7,"x":242.7,"y":0.006},{"p":4,"s":7,"x":251.4,"y":-0.007},{"p":4,"s":7,"x":260.2,"y":-0.016},{"p":4,"s":7,"x":269,"y":-0.014},{"p":4,"s":7,"x":286.5,"y":-0.008},{"p":4,"s":7,"x":304,"y":0.0},{"p":4,"s":7,"x":321.6,"y":0.008},{"p":4,"s":7,"x":350,"y":0.007},{"p":4,"s":7,"x":375,"y":0.003},{"p":4,"s":7,"x":400,"y":0.0}
]},
"data":{"name":"spectra"},
"transform":[{"lookup":"s","from":{"data":{"name":"series"},"key":"s","fields":["name"]}}],
"config":{
"view":{"stroke":null},
"axis":{"grid":false,"domainColor":"#8a8a8a","domainWidth":1.5,"tickColor":"#8a8a8a","tickWidth":1.2,"tickSize":4,"labelFont":"Liberation Sans","labelFontSize":12,"labelFontWeight":"bold","labelColor":"#2b2b2b","titleFont":"Liberation Sans","titleFontSize":13,"titleFontWeight":"bold","titleColor":"#2b2b2b"},
"axisX":{"labelPadding":2,"titlePadding":3,"labelFlush":false},
"axisY":{"labelPadding":3,"titlePadding":6},
"legend":{"orient":"none","symbolType":"stroke","symbolStrokeWidth":3,"symbolSize":144,"labelFont":"Open Sans","labelFontSize":9,"labelColor":"#333333","labelOffset":5,"labelLimit":300},
"title":{"font":"Lato","fontWeight":900,"fontSize":19,"anchor":"middle","frame":"group"},
"line":{"strokeWidth":1.5,"clip":true}
},
"vconcat":[
{"hconcat":[
{"width":381,"height":159,
"title":{"text":"PEG –1000 g/mol con Citrato de Sodio","color":"#7A3DB8","dx":-11,"offset":6},
"transform":[{"filter":"datum.p==1"}],
"mark":{"type":"line"},
"encoding":{
"x":{"field":"x","type":"quantitative","scale":{"domain":[200,400],"nice":false,"zero":false},"axis":{"values":[200,250,300,350,400],"title":"Long. Onda (nm)"}},
"y":{"field":"y","type":"quantitative","scale":{"domain":[-0.05,1.5],"nice":false},"axis":{"values":[0,0.5,1,1.5],"labelExpr":"replace(format(datum.value,'.1f'),'.',',')","title":"Abs"}},
"color":{"field":"name","type":"nominal","scale":{"domain":["Blanco - FP - Más Polímero","Blanco - FP - Menos Polímero","Blanco - FS - Más Polímero","Blanco - FS - Menos Polímero","Extracción - FP - Más Polímero","Extracción - FP - Menos Polímero","Extracción - FS - Más Polímero","Extracción - FS - Menos Polímero"],"range":["#FF1A1A","#3E8E2E","#8A8A8A","#262626","#FF9BE8","#2F9BFF","#9033C8","#F27C3A"]},"legend":{"title":null,"legendX":253,"legendY":-7,"rowPadding":3.2}}}},
{"width":401,"height":168,
"title":{"text":"PEG –400 g/mol con Citrato de Sodio","color":"#2A86DE","dx":9,"offset":7},
"transform":[{"filter":"datum.p==2"}],
"mark":{"type":"line"},
"encoding":{
"x":{"field":"x","type":"quantitative","scale":{"domain":[200,400],"nice":false,"zero":false},"axis":{"values":[200,250,300,350,400],"title":"Long. Onda (nm)"}},
"y":{"field":"y","type":"quantitative","scale":{"domain":[-0.05,1.5],"nice":false},"axis":{"values":[0,0.5,1,1.5],"labelExpr":"replace(format(datum.value,'.1f'),'.',',')","title":"Abs"}},
"color":{"field":"name","type":"nominal","scale":{"domain":["Blanco - FP - Más Polímero","Blanco - FP - Menos Polímero","Blanco - FS - Más Polímero","Blanco - FS - Menos Polímero","Extracción - FP - Más Polímero","Extracción - FP - Menos Polímero","Extracción - FS - Más Polímero","Extracción - FS - Menos Polímero"],"range":["#FF1A1A","#3E8E2E","#8A8A8A","#262626","#FF9BE8","#2F9BFF","#9033C8","#F27C3A"]},"legend":{"title":null,"legendX":245,"legendY":-8,"rowPadding":2.1}}}}
],"spacing":19,"resolve":{"scale":{"color":"independent"}}},
{"hconcat":[
{"width":388,"height":159,
"title":{"text":"PEG –1000 g/mol con Sulfato de Sodio","color":"#4A8A2A","dx":-17,"offset":11},
"transform":[{"filter":"datum.p==3"}],
"mark":{"type":"line"},
"encoding":{
"x":{"field":"x","type":"quantitative","scale":{"domain":[200,400],"nice":false,"zero":false},"axis":{"values":[200,250,300,350,400],"title":"Long. Onda (nm)"}},
"y":{"field":"y","type":"quantitative","scale":{"domain":[-0.05,1.5],"nice":false,"range":[159,9.5]},"axis":{"values":[0,0.5,1,1.5],"labelExpr":"replace(format(datum.value,'.1f'),'.',',')","title":"Abs"}},
"color":{"field":"name","type":"nominal","scale":{"domain":["Blanco - FP - Más Polímero","Blanco - FP - Menos Polímero","Blanco - FS - Más Polímero","Blanco - FS - Menos Polímero","Extracción - FP - Más Polímero","Extracción - FP - Menos Polímero","Extracción - FS - Más Polímero","Extracción - FS - Menos Polímero"],"range":["#FF1A1A","#3E8E2E","#8A8A8A","#262626","#FF9BE8","#2F9BFF","#9033C8","#F27C3A"]},"legend":{"title":null,"legendX":255,"legendY":2,"rowPadding":2.9}}}},
{"width":380,"height":159,
"title":{"text":"PEG –400 g/mol con Sulfato de Sodio","color":"#C41018","dx":12,"offset":6},
"transform":[{"filter":"datum.p==4"}],
"mark":{"type":"line"},
"encoding":{
"x":{"field":"x","type":"quantitative","scale":{"domain":[200,400],"nice":false,"zero":false},"axis":{"values":[200,250,300,350,400],"title":"Long. Onda (nm)"}},
"y":{"field":"y","type":"quantitative","scale":{"domain":[-0.05,1.5],"nice":false},"axis":{"values":[0,0.5,1,1.5],"labelExpr":"replace(format(datum.value,'.1f'),'.',',')","title":"Abs"}},
"color":{"field":"name","type":"nominal","scale":{"domain":["Blanco - FP - Más Polímero","Blanco - FP - Menos Polímero","Blanco - FS - Más Polímero","Blanco - FS - Menos Polímero","Extracción - FP - Más Polímero","Extracción - FP - Menos Polímero","Extracción - FS - Más Polímero","Extracción - FS - Menos Polímero"],"range":["#FF1A1A","#3E8E2E","#8A8A8A","#262626","#FF9BE8","#2F9BFF","#9033C8","#F27C3A"]},"legend":{"title":null,"legendX":242,"legendY":3,"rowPadding":3.1}}}}
],"spacing":21,"resolve":{"scale":{"color":"independent"}}}
],
"spacing":23,
"resolve":{"scale":{"color":"independent"}}
}
